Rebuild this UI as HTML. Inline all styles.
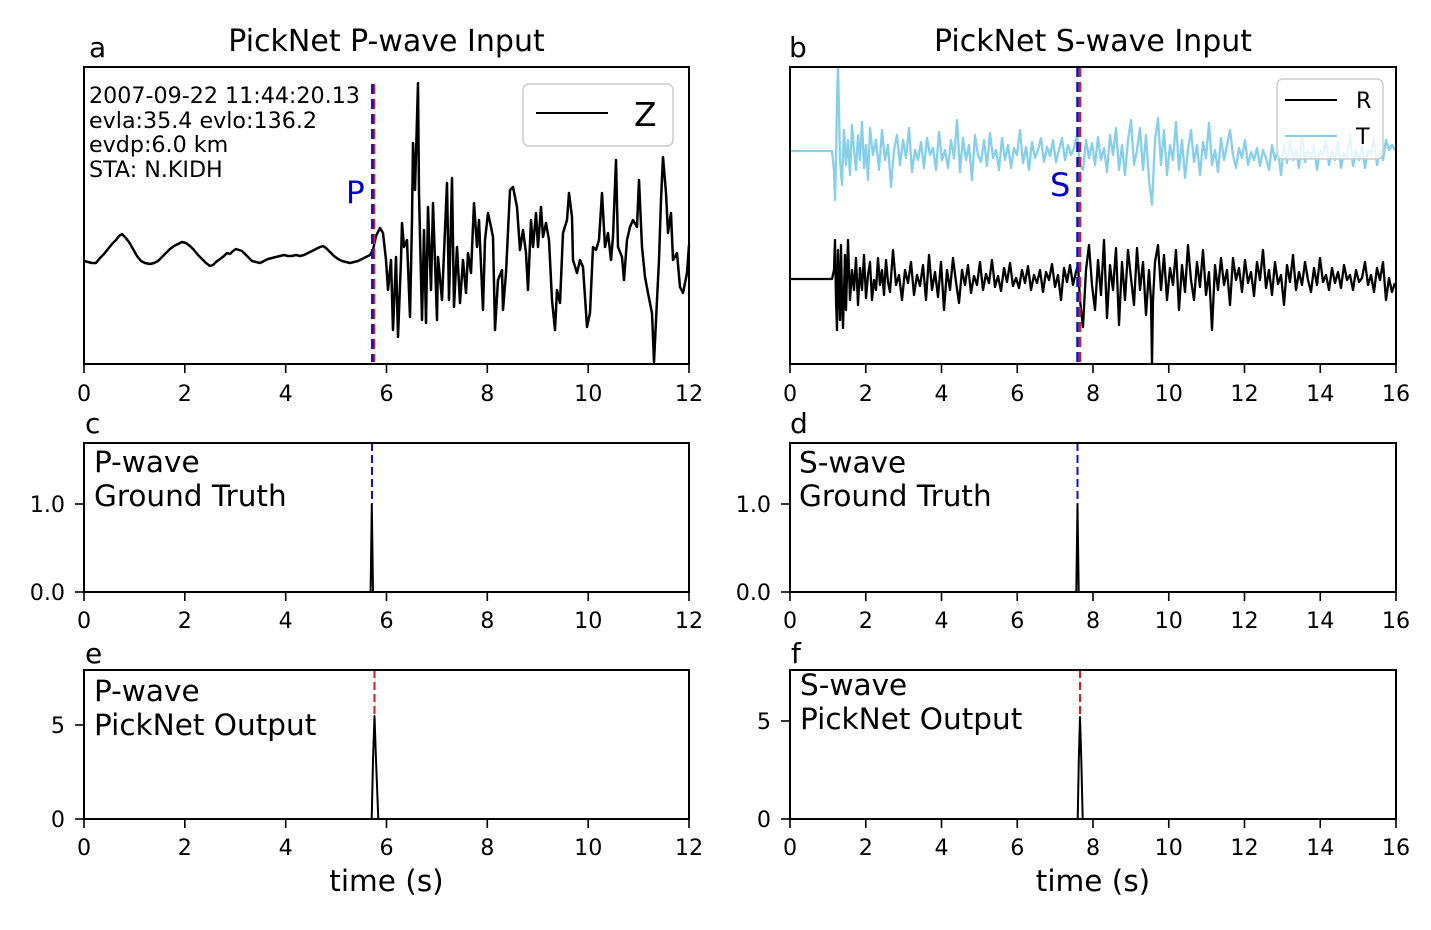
<!DOCTYPE html>
<html>
<head>
<meta charset="utf-8">
<style>
html,body{margin:0;padding:0;background:#fff;}
svg{display:block;}
text{font-family:"DejaVu Sans","Liberation Sans",sans-serif;fill:#000;}
</style>
</head>
<body>
<svg width="1431" height="930" viewBox="0 0 1431 930" xmlns="http://www.w3.org/2000/svg">
<rect x="0" y="0" width="1431" height="930" fill="#fff"/>

<!-- ============ PANEL A ============ -->
<text x="386.5" y="51" font-size="30" text-anchor="middle">PickNet P-wave Input</text>
<text x="89" y="57" font-size="28">a</text>

<!-- waveform Z -->
<polyline fill="none" stroke="#000" stroke-width="2.5" stroke-linejoin="round" points="
84,261 88,262 92,263 96,263 100,258 104,254 108,249 112,244 116,240 119,236 122,234 125,237 129,242 133,249 137,256 141,261 145,263 150,264 154,263 158,261 162,257 166,253 170,249 174,246 178,244 182,242 186,243 190,246 194,250 198,255 202,259 206,263 210,266 213,265 216,262 220,259 224,256 227,253 230,254 233,251 236,249 239,250 242,251 245,254 248,257 252,261 256,262 260,263 264,261 268,259 272,258 276,257 280,256 284,255 288,256 292,256 296,255 300,256 304,255 308,253 312,251 316,249 320,247 323,246 326,248 330,252 334,256 338,259 342,261 346,262 350,263 354,262 358,261 362,259 366,257 370,255 373,250
376,236 380,228 383,233 386,260 388,290 391,260 393,330 396,257 398,337 401,260 402,223 404,247 407,240 410,317 412,220 413,143 415,190 418,83 419,193 422,320 424,230 426,323 428,207 431,290 433,203 437,320 438,257 442,300 447,183 449,300 452,178 454,307 457,247 460,303 463,260 466,293 468,253 471,273 474,203 477,247 479,220 483,310 485,240 488,213 491,227 493,237 495,330 498,280 502,270 503,310 506,273 510,190 513,187 517,207 520,250 523,230 526,253 528,290 531,220 533,247 536,213 538,247 541,207 543,237 546,223 549,240 552,300 555,330 557,290 560,303 563,233 567,220 569,193 572,217 573,260 577,273 580,260 583,267 587,327 590,313 593,247 596,250 599,240 602,193 605,247 608,233 611,260 613,237 616,160 618,247 622,257 624,280 627,240 630,227 633,220 637,227 639,180 642,247 645,277 648,293 652,313 654,362 657,300 659,260 661,200 663,157 666,193 668,233 671,213 673,260 677,253 680,287 683,293 687,273 689,245"/>

<!-- P pick lines -->
<line x1="374" y1="84" x2="374" y2="362" stroke="#cc2020" stroke-width="2.5" stroke-dasharray="10 5"/>
<line x1="372.3" y1="84" x2="372.3" y2="362" stroke="#1010c0" stroke-width="2.5" stroke-dasharray="10 5"/>
<text x="346" y="203" font-size="31" style="fill:#0000cc">P</text>

<!-- info text -->
<text x="89" y="103" font-size="22.2">2007-09-22 11:44:20.13</text>
<text x="89" y="128" font-size="22.2">evla:35.4 evlo:136.2</text>
<text x="89" y="152" font-size="22.2">evdp:6.0 km</text>
<text x="89" y="177" font-size="22.2">STA: N.KIDH</text>

<!-- legend Z -->
<rect x="523" y="84" width="150" height="62" rx="6" ry="6" fill="#fff" fill-opacity="0.8" stroke="#cccccc" stroke-width="1.5"/>
<line x1="536" y1="113" x2="608" y2="113" stroke="#000" stroke-width="2"/>
<text x="634" y="126" font-size="33">Z</text>

<!-- frame a -->
<rect x="84" y="67" width="605" height="297" fill="none" stroke="#000" stroke-width="2"/>

<!-- ============ PANEL B ============ -->
<text x="1093" y="51" font-size="30" text-anchor="middle">PickNet S-wave Input</text>
<text x="789" y="57" font-size="28">b</text>

<!-- T trace -->
<polyline fill="none" stroke="#87ceeb" stroke-width="2.3" stroke-linejoin="round" points="
790,151 832,151 834,170 835,200 836,160 837,100 838,67 839,110 840,160 842,185 844,130 846,165 848,140 850,175 852,125 854,150 856,170 858,135 860,160 862,122 864,168 866,145 868,180 870,128 873,155 876,140 879,170 882,130 885,160 888,145 891,187 894,150 897,135 900,165 903,140 906,158 909,128 912,172 915,150 918,160 921,142 924,168 927,138 930,155 933,148 936,170 939,132 942,160 945,150 948,168 951,140 954,158 957,120 960,172 963,138 966,160 969,145 972,180 975,135 978,155 981,162 984,140 987,166 990,133 993,158 996,150 999,170 1002,138 1005,160 1008,145 1011,168 1014,148 1017,155 1020,130 1023,163 1026,147 1029,170 1032,142 1035,158 1038,150 1041,138 1044,162 1047,147 1050,156 1053,140 1056,162 1059,150 1062,138 1065,160 1068,145 1071,155 1074,148 1077,135 1080,165 1083,170 1086,140 1089,158 1092,143 1095,165 1098,137 1101,160 1104,148 1107,172 1110,135 1113,155 1116,128 1119,170 1122,145 1125,175 1128,140 1131,120 1134,165 1137,150 1140,128 1143,170 1146,135 1149,180 1152,205 1155,140 1158,118 1161,165 1164,130 1167,175 1170,145 1173,160 1176,122 1179,170 1182,140 1185,178 1188,150 1191,130 1194,162 1197,145 1200,175 1203,142 1206,158 1209,123 1212,165 1215,150 1218,172 1221,138 1224,160 1227,145 1230,130 1233,155 1236,168 1239,148 1242,158 1245,140 1248,165 1251,152 1254,160 1257,148 1260,166 1263,150 1266,158 1269,170 1272,145 1275,160 1278,150 1281,175 1284,145 1287,163 1290,140 1293,160 1296,150 1299,168 1302,135 1305,162 1308,150 1311,158 1314,145 1317,170 1320,150 1323,155 1326,140 1329,165 1332,150 1335,160 1338,142 1341,168 1344,153 1347,158 1350,135 1353,166 1356,150 1359,160 1362,145 1365,168 1368,150 1371,155 1374,138 1377,165 1380,150 1383,160 1386,140 1389,150 1392,145 1395,150"/>

<!-- R trace -->
<polyline fill="none" stroke="#000" stroke-width="2.3" stroke-linejoin="round" points="
790,279 832,279 834,270 835,240 836,300 837,330 838,250 840,320 841,245 842,300 843,328 845,255 846,310 848,240 850,300 852,270 854,290 856,258 858,305 860,268 862,290 864,255 866,298 868,275 870,262 872,300 874,280 876,290 878,258 880,285 882,270 884,295 886,260 888,282 890,292 893,250 896,285 899,275 902,300 905,270 908,283 911,262 914,295 917,275 920,286 923,265 926,300 929,255 932,290 935,272 938,297 941,262 944,310 947,270 950,290 953,258 956,282 959,303 962,270 965,285 968,265 971,293 974,276 977,285 980,262 983,290 986,274 989,283 992,260 995,287 998,276 1001,291 1004,268 1007,282 1010,263 1013,286 1016,278 1019,288 1022,270 1025,283 1028,266 1031,290 1034,275 1037,283 1040,270 1043,292 1046,272 1049,280 1052,264 1055,287 1058,275 1061,300 1064,268 1067,282 1070,265 1073,285 1076,272 1078,265 1080,300 1083,327 1086,270 1089,245 1092,285 1095,310 1098,260 1101,295 1104,240 1107,318 1110,265 1113,290 1116,248 1119,325 1122,262 1125,300 1128,250 1131,278 1134,305 1137,248 1140,290 1143,262 1146,315 1149,270 1151,300 1152,364 1153,300 1155,262 1158,245 1161,290 1164,255 1167,300 1170,268 1173,285 1176,250 1179,310 1182,265 1185,292 1188,245 1191,280 1194,300 1197,262 1200,287 1203,250 1206,295 1209,272 1212,330 1215,265 1218,290 1221,258 1224,285 1227,270 1230,305 1233,258 1236,280 1239,268 1242,292 1245,260 1248,283 1251,272 1254,296 1257,262 1260,280 1263,250 1266,288 1269,270 1272,295 1275,262 1278,284 1281,275 1284,305 1287,265 1290,282 1293,255 1296,290 1299,272 1302,285 1305,262 1308,280 1311,292 1314,268 1317,285 1320,258 1323,282 1326,275 1329,290 1332,268 1335,283 1338,272 1341,288 1344,265 1347,280 1350,275 1353,290 1356,270 1359,282 1362,278 1365,262 1368,285 1371,275 1374,292 1377,268 1380,280 1383,262 1386,300 1389,278 1392,292 1395,283"/>

<!-- S pick lines -->
<line x1="1080" y1="67" x2="1080" y2="364" stroke="#cc2020" stroke-width="2.5" stroke-dasharray="10 5"/>
<line x1="1077.5" y1="67" x2="1077.5" y2="364" stroke="#1010c0" stroke-width="2.5" stroke-dasharray="10 5"/>
<text x="1050" y="196" font-size="32" style="fill:#0000cc">S</text>

<!-- legend R/T -->
<rect x="1277" y="79" width="106" height="80" rx="6" ry="6" fill="#fff" fill-opacity="0.8" stroke="#cccccc" stroke-width="1.5"/>
<line x1="1285" y1="100" x2="1337" y2="100" stroke="#000" stroke-width="2"/>
<text x="1356" y="108" font-size="22.2">R</text>
<line x1="1285" y1="136" x2="1337" y2="136" stroke="#87ceeb" stroke-width="2"/>
<text x="1356" y="144" font-size="22.2">T</text>

<!-- frame b -->
<rect x="790" y="67" width="606" height="297" fill="none" stroke="#000" stroke-width="2"/>

<!-- x ticks row 1 -->
<g stroke="#000" stroke-width="1.6">
<line x1="84" y1="364" x2="84" y2="373"/><line x1="184.8" y1="364" x2="184.8" y2="373"/><line x1="285.7" y1="364" x2="285.7" y2="373"/><line x1="386.5" y1="364" x2="386.5" y2="373"/><line x1="487.3" y1="364" x2="487.3" y2="373"/><line x1="588.2" y1="364" x2="588.2" y2="373"/><line x1="689" y1="364" x2="689" y2="373"/>
<line x1="790" y1="364" x2="790" y2="373"/><line x1="865.75" y1="364" x2="865.75" y2="373"/><line x1="941.5" y1="364" x2="941.5" y2="373"/><line x1="1017.25" y1="364" x2="1017.25" y2="373"/><line x1="1093" y1="364" x2="1093" y2="373"/><line x1="1168.75" y1="364" x2="1168.75" y2="373"/><line x1="1244.5" y1="364" x2="1244.5" y2="373"/><line x1="1320.25" y1="364" x2="1320.25" y2="373"/><line x1="1396" y1="364" x2="1396" y2="373"/>
</g>
<g font-size="22.2" text-anchor="middle">
<text x="84" y="401">0</text><text x="184.8" y="401">2</text><text x="285.7" y="401">4</text><text x="386.5" y="401">6</text><text x="487.3" y="401">8</text><text x="588.2" y="401">10</text><text x="689" y="401">12</text>
<text x="790" y="401">0</text><text x="865.75" y="401">2</text><text x="941.5" y="401">4</text><text x="1017.25" y="401">6</text><text x="1093" y="401">8</text><text x="1168.75" y="401">10</text><text x="1244.5" y="401">12</text><text x="1320.25" y="401">14</text><text x="1396" y="401">16</text>
</g>

<!-- ============ PANEL C ============ -->
<text x="85" y="433" font-size="28">c</text>
<line x1="372" y1="443" x2="372" y2="504" stroke="#1010c0" stroke-width="2" stroke-dasharray="8 4"/>
<polyline fill="none" stroke="#000" stroke-width="2" points="370.6,592 371.8,504 373,592"/>
<text x="94" y="472" font-size="29.5">P-wave</text>
<text x="94" y="506" font-size="29.5">Ground Truth</text>
<rect x="84" y="443" width="605" height="149" fill="none" stroke="#000" stroke-width="2"/>

<!-- ============ PANEL D ============ -->
<text x="790" y="433" font-size="28">d</text>
<line x1="1077.5" y1="443" x2="1077.5" y2="504" stroke="#1010c0" stroke-width="2" stroke-dasharray="8 4"/>
<polyline fill="none" stroke="#000" stroke-width="2" points="1076.3,592 1077.5,504 1078.7,592"/>
<text x="799" y="472.5" font-size="29.5">S-wave</text>
<text x="799" y="506" font-size="29.5">Ground Truth</text>
<rect x="790" y="443" width="606" height="149" fill="none" stroke="#000" stroke-width="2"/>

<!-- y ticks c/d -->
<g stroke="#000" stroke-width="1.6">
<line x1="75" y1="504" x2="84" y2="504"/><line x1="75" y1="592" x2="84" y2="592"/>
<line x1="781" y1="504" x2="790" y2="504"/><line x1="781" y1="592" x2="790" y2="592"/>
</g>
<g font-size="22.2" text-anchor="end">
<text x="65" y="512">1.0</text><text x="65" y="600">0.0</text>
<text x="771" y="512">1.0</text><text x="771" y="600">0.0</text>
</g>

<!-- x ticks row 2 -->
<g stroke="#000" stroke-width="1.6">
<line x1="84" y1="592" x2="84" y2="601"/><line x1="184.8" y1="592" x2="184.8" y2="601"/><line x1="285.7" y1="592" x2="285.7" y2="601"/><line x1="386.5" y1="592" x2="386.5" y2="601"/><line x1="487.3" y1="592" x2="487.3" y2="601"/><line x1="588.2" y1="592" x2="588.2" y2="601"/><line x1="689" y1="592" x2="689" y2="601"/>
<line x1="790" y1="592" x2="790" y2="601"/><line x1="865.75" y1="592" x2="865.75" y2="601"/><line x1="941.5" y1="592" x2="941.5" y2="601"/><line x1="1017.25" y1="592" x2="1017.25" y2="601"/><line x1="1093" y1="592" x2="1093" y2="601"/><line x1="1168.75" y1="592" x2="1168.75" y2="601"/><line x1="1244.5" y1="592" x2="1244.5" y2="601"/><line x1="1320.25" y1="592" x2="1320.25" y2="601"/><line x1="1396" y1="592" x2="1396" y2="601"/>
</g>
<g font-size="22.2" text-anchor="middle">
<text x="84" y="628">0</text><text x="184.8" y="628">2</text><text x="285.7" y="628">4</text><text x="386.5" y="628">6</text><text x="487.3" y="628">8</text><text x="588.2" y="628">10</text><text x="689" y="628">12</text>
<text x="790" y="628">0</text><text x="865.75" y="628">2</text><text x="941.5" y="628">4</text><text x="1017.25" y="628">6</text><text x="1093" y="628">8</text><text x="1168.75" y="628">10</text><text x="1244.5" y="628">12</text><text x="1320.25" y="628">14</text><text x="1396" y="628">16</text>
</g>

<!-- ============ PANEL E ============ -->
<text x="85" y="663" font-size="28">e</text>
<line x1="374.5" y1="670" x2="374.5" y2="716" stroke="#cc2020" stroke-width="2" stroke-dasharray="8 4"/>
<polyline fill="none" stroke="#000" stroke-width="2" stroke-linejoin="round" points="371.7,819 373,760 374.5,716 376,760 378.3,819"/>
<text x="94" y="701" font-size="29.5">P-wave</text>
<text x="94" y="735" font-size="29.5">PickNet Output</text>
<rect x="84" y="670" width="605" height="149" fill="none" stroke="#000" stroke-width="2"/>

<!-- ============ PANEL F ============ -->
<text x="791" y="663" font-size="28">f</text>
<line x1="1080" y1="670" x2="1080" y2="717" stroke="#cc2020" stroke-width="2" stroke-dasharray="8 4"/>
<polyline fill="none" stroke="#000" stroke-width="2" stroke-linejoin="round" points="1077.7,819 1078.8,760 1080,717 1081.3,760 1082.7,819"/>
<text x="800" y="695" font-size="29.5">S-wave</text>
<text x="800" y="729" font-size="29.5">PickNet Output</text>
<rect x="790" y="670" width="606" height="149" fill="none" stroke="#000" stroke-width="2"/>

<!-- y ticks e/f -->
<g stroke="#000" stroke-width="1.6">
<line x1="75" y1="725" x2="84" y2="725"/><line x1="75" y1="819" x2="84" y2="819"/>
<line x1="781" y1="721" x2="790" y2="721"/><line x1="781" y1="819" x2="790" y2="819"/>
</g>
<g font-size="22.2" text-anchor="end">
<text x="65" y="733">5</text><text x="65" y="827">0</text>
<text x="771" y="729">5</text><text x="771" y="827">0</text>
</g>

<!-- x ticks row 3 -->
<g stroke="#000" stroke-width="1.6">
<line x1="84" y1="819" x2="84" y2="828"/><line x1="184.8" y1="819" x2="184.8" y2="828"/><line x1="285.7" y1="819" x2="285.7" y2="828"/><line x1="386.5" y1="819" x2="386.5" y2="828"/><line x1="487.3" y1="819" x2="487.3" y2="828"/><line x1="588.2" y1="819" x2="588.2" y2="828"/><line x1="689" y1="819" x2="689" y2="828"/>
<line x1="790" y1="819" x2="790" y2="828"/><line x1="865.75" y1="819" x2="865.75" y2="828"/><line x1="941.5" y1="819" x2="941.5" y2="828"/><line x1="1017.25" y1="819" x2="1017.25" y2="828"/><line x1="1093" y1="819" x2="1093" y2="828"/><line x1="1168.75" y1="819" x2="1168.75" y2="828"/><line x1="1244.5" y1="819" x2="1244.5" y2="828"/><line x1="1320.25" y1="819" x2="1320.25" y2="828"/><line x1="1396" y1="819" x2="1396" y2="828"/>
</g>
<g font-size="22.2" text-anchor="middle">
<text x="84" y="855">0</text><text x="184.8" y="855">2</text><text x="285.7" y="855">4</text><text x="386.5" y="855">6</text><text x="487.3" y="855">8</text><text x="588.2" y="855">10</text><text x="689" y="855">12</text>
<text x="790" y="855">0</text><text x="865.75" y="855">2</text><text x="941.5" y="855">4</text><text x="1017.25" y="855">6</text><text x="1093" y="855">8</text><text x="1168.75" y="855">10</text><text x="1244.5" y="855">12</text><text x="1320.25" y="855">14</text><text x="1396" y="855">16</text>
</g>

<!-- x labels -->
<text x="386.5" y="891" font-size="29.5" text-anchor="middle">time (s)</text>
<text x="1093" y="891" font-size="29.5" text-anchor="middle">time (s)</text>
</svg>
</body>
</html>
